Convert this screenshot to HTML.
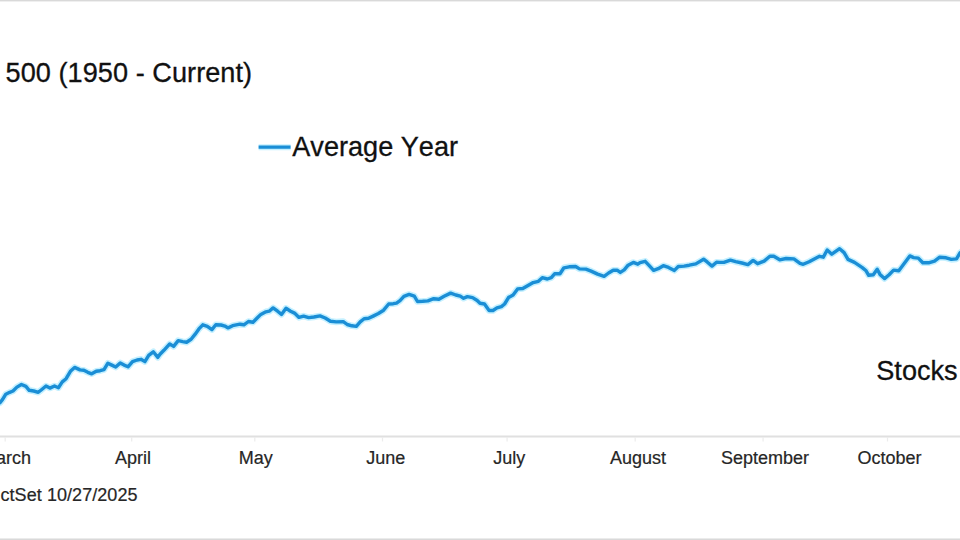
<!DOCTYPE html>
<html><head><meta charset="utf-8"><style>
html,body{margin:0;padding:0;background:#fff;}
body{width:960px;height:540px;overflow:hidden;position:relative;}
svg{position:absolute;left:0;top:0;}
text{font-family:"Liberation Sans", sans-serif;font-kerning:none;}
.big{stroke:#111;stroke-width:0.3px;}
.sm{stroke:#262626;stroke-width:0.2px;}
</style></head><body>
<svg width="960" height="540" viewBox="0 0 960 540">
<rect x="0" y="0" width="960" height="540" fill="#fff"/>
<rect x="0" y="0" width="960" height="1" fill="#d9d9d9"/>
<rect x="0" y="1" width="960" height="1" fill="#efefef"/>
<rect x="0" y="538" width="960" height="1" fill="#ebebeb"/>
<rect x="0" y="539" width="960" height="1" fill="#d9d9d9"/>
<text x="5.5" y="82.3" font-size="27.1" letter-spacing="0.06" fill="#111" class="big">500 (1950 - Current)</text>
<line x1="258.6" y1="147.2" x2="290.6" y2="147.2" stroke="#c4f0ff" stroke-width="6"/>
<line x1="258.6" y1="147.2" x2="290.6" y2="147.2" stroke="#1a8ed6" stroke-width="3.2"/>
<text x="292.3" y="155.5" font-size="27.1" letter-spacing="0.0" fill="#111" class="big">Average Year</text>
<text x="876.3" y="379.7" font-size="27.1" letter-spacing="0.0" fill="#111" class="big">Stocks</text>
<rect x="0" y="435.5" width="960" height="2" fill="#e0e0e0"/>
<g stroke="#ececec" stroke-width="1.2"><line x1="5.2" y1="437" x2="5.2" y2="441.5" /><line x1="131.7" y1="437" x2="131.7" y2="441.5" /><line x1="254.8" y1="437" x2="254.8" y2="441.5" /><line x1="382.5" y1="437" x2="382.5" y2="441.5" /><line x1="507.1" y1="437" x2="507.1" y2="441.5" /><line x1="635.2" y1="437" x2="635.2" y2="441.5" /><line x1="763.1" y1="437" x2="763.1" y2="441.5" /><line x1="887.5" y1="437" x2="887.5" y2="441.5" /></g>
<g font-size="18" fill="#262626" text-anchor="middle" class="sm"><text x="5.9" y="464">March</text><text x="132.9" y="464">April</text><text x="255.7" y="464">May</text><text x="385.7" y="464">June</text><text x="509.3" y="464">July</text><text x="637.9" y="464">August</text><text x="765.1" y="464">September</text><text x="889.5" y="464">October</text></g>
<text x="0.5" y="501" font-size="18" letter-spacing="0.06" fill="#262626" class="sm">ctSet 10/27/2025</text>
<g transform="translate(0,0.4)"><polyline fill="none" stroke="#c4f0ff" stroke-width="6.5" stroke-linejoin="round" stroke-linecap="round" points="0,402.3 2.6,399 5.8,393.8 9.7,391.9 13,390.6 16.9,386.7 21.4,384.1 25.9,386 29.2,389.9 33.7,390.6 38.3,391.9 41.5,389.3 46,385.6 49.9,387.7 54.5,385.6 58.4,387.3 62.3,381.5 66.1,378.3 70.7,370.5 74.6,367 80,369.5 83.9,369.9 87.8,371.9 91.7,373.4 96.2,370.8 100.1,370.3 104,369.3 107.9,362.8 111.8,364.7 115.7,366.7 120.2,362.5 124.1,364.7 128,366.4 132.5,361.2 137.1,359.6 141,358.9 144.9,361.2 148.7,355 153.3,351.4 157.8,357 160,353.8 163.9,349.9 169.7,343.5 173.6,346 178.2,340.2 182.7,341.2 186.6,341.8 191.1,338.9 195,334 198.9,328.5 202.8,324.4 207.3,325.9 211.9,329.2 215.8,324.4 221,324.6 224.9,325.7 228.1,327.5 232.6,325.3 240,323.8 243.9,324.4 248.4,321.1 253,321.8 256.9,317.9 260.8,314 265.9,311.4 269.2,310.8 273.1,307.5 277.6,310.8 281.5,314 286,307.9 290.6,310.8 294.5,312.7 299,317 303.6,315.7 308.7,317.2 313.9,316.6 320,315.5 325.2,317.6 330.4,320.9 336.2,321.5 343.3,321.2 347.2,324.1 351.8,325.4 356.3,326 360.2,321.5 364.1,318.3 368.6,317.9 373.2,315.7 378.4,313.1 383.6,309.8 388.7,303.6 393.3,303.3 396.5,302.7 400,300.2 403.9,295.9 409.1,294 414.3,295.7 417.5,301.1 422.7,300.9 427.9,300.5 433.7,298.3 438.9,298.8 444.1,295.9 450.6,292.7 455.8,294.6 460.3,295.7 463.6,297.9 467.4,296.2 472.6,297.2 477.2,300.1 480,302.9 484.5,303.6 489.1,310.1 493,310.1 496.9,307.5 501.4,306.2 504.6,303.6 508.5,297.2 513.1,294.6 517.6,288.5 522.8,288.1 528,285.1 533.2,282.2 538.4,280.9 542.3,277.3 547.4,278.6 551.3,277.3 554.6,273.4 560,273.4 563.9,267.4 569.1,266.4 575.6,266.1 579.5,268.5 585.9,268.7 591.1,270.7 597.6,273.7 604.1,275.9 608.6,272.6 613.2,269.8 617.1,269.8 620.3,272 624.2,269.4 628.1,264.8 633.3,262 637.8,263.8 640,262.3 645.2,260.9 649.7,265.7 653.6,270 658.2,268.3 663.3,265.3 668.5,267 674.4,270 678.3,266.1 684.1,265.7 689.3,264.8 695.8,263.5 703.6,258.8 707.4,261.8 712,265.7 716.5,261.8 720,262 723.9,262 730.4,259.8 735.6,261.3 742,262.6 747.9,264.2 753.1,260 757.6,263.3 764.1,260.7 769.9,255.9 773.8,255.9 779.7,259.4 786.1,258.1 793.9,258.5 800,263 803.2,263.9 809.1,261.3 814.3,258.5 819.5,255.9 823.3,256.8 827.2,249.6 831.8,253.8 839.6,248.3 844.1,252.2 848,259 854.5,262 862.3,267.2 866.1,270.4 868.7,274.9 873.3,274.3 877.2,268.8 880,274 884.5,278.2 889.1,274.3 893.6,269.7 898.8,270.4 902.7,265.2 909.8,255.5 913.7,257.2 918.3,257.7 922.8,262.4 928.6,262.4 934.5,260.7 939.7,256.8 946.1,257.4 951.3,259 956.5,258.5 960,252.5 962,251"/>
<polyline fill="none" stroke="#1a8ed6" stroke-width="3.4" stroke-linejoin="round" stroke-linecap="round" points="0,402.3 2.6,399 5.8,393.8 9.7,391.9 13,390.6 16.9,386.7 21.4,384.1 25.9,386 29.2,389.9 33.7,390.6 38.3,391.9 41.5,389.3 46,385.6 49.9,387.7 54.5,385.6 58.4,387.3 62.3,381.5 66.1,378.3 70.7,370.5 74.6,367 80,369.5 83.9,369.9 87.8,371.9 91.7,373.4 96.2,370.8 100.1,370.3 104,369.3 107.9,362.8 111.8,364.7 115.7,366.7 120.2,362.5 124.1,364.7 128,366.4 132.5,361.2 137.1,359.6 141,358.9 144.9,361.2 148.7,355 153.3,351.4 157.8,357 160,353.8 163.9,349.9 169.7,343.5 173.6,346 178.2,340.2 182.7,341.2 186.6,341.8 191.1,338.9 195,334 198.9,328.5 202.8,324.4 207.3,325.9 211.9,329.2 215.8,324.4 221,324.6 224.9,325.7 228.1,327.5 232.6,325.3 240,323.8 243.9,324.4 248.4,321.1 253,321.8 256.9,317.9 260.8,314 265.9,311.4 269.2,310.8 273.1,307.5 277.6,310.8 281.5,314 286,307.9 290.6,310.8 294.5,312.7 299,317 303.6,315.7 308.7,317.2 313.9,316.6 320,315.5 325.2,317.6 330.4,320.9 336.2,321.5 343.3,321.2 347.2,324.1 351.8,325.4 356.3,326 360.2,321.5 364.1,318.3 368.6,317.9 373.2,315.7 378.4,313.1 383.6,309.8 388.7,303.6 393.3,303.3 396.5,302.7 400,300.2 403.9,295.9 409.1,294 414.3,295.7 417.5,301.1 422.7,300.9 427.9,300.5 433.7,298.3 438.9,298.8 444.1,295.9 450.6,292.7 455.8,294.6 460.3,295.7 463.6,297.9 467.4,296.2 472.6,297.2 477.2,300.1 480,302.9 484.5,303.6 489.1,310.1 493,310.1 496.9,307.5 501.4,306.2 504.6,303.6 508.5,297.2 513.1,294.6 517.6,288.5 522.8,288.1 528,285.1 533.2,282.2 538.4,280.9 542.3,277.3 547.4,278.6 551.3,277.3 554.6,273.4 560,273.4 563.9,267.4 569.1,266.4 575.6,266.1 579.5,268.5 585.9,268.7 591.1,270.7 597.6,273.7 604.1,275.9 608.6,272.6 613.2,269.8 617.1,269.8 620.3,272 624.2,269.4 628.1,264.8 633.3,262 637.8,263.8 640,262.3 645.2,260.9 649.7,265.7 653.6,270 658.2,268.3 663.3,265.3 668.5,267 674.4,270 678.3,266.1 684.1,265.7 689.3,264.8 695.8,263.5 703.6,258.8 707.4,261.8 712,265.7 716.5,261.8 720,262 723.9,262 730.4,259.8 735.6,261.3 742,262.6 747.9,264.2 753.1,260 757.6,263.3 764.1,260.7 769.9,255.9 773.8,255.9 779.7,259.4 786.1,258.1 793.9,258.5 800,263 803.2,263.9 809.1,261.3 814.3,258.5 819.5,255.9 823.3,256.8 827.2,249.6 831.8,253.8 839.6,248.3 844.1,252.2 848,259 854.5,262 862.3,267.2 866.1,270.4 868.7,274.9 873.3,274.3 877.2,268.8 880,274 884.5,278.2 889.1,274.3 893.6,269.7 898.8,270.4 902.7,265.2 909.8,255.5 913.7,257.2 918.3,257.7 922.8,262.4 928.6,262.4 934.5,260.7 939.7,256.8 946.1,257.4 951.3,259 956.5,258.5 960,252.5 962,251"/></g>
</svg>
</body></html>
